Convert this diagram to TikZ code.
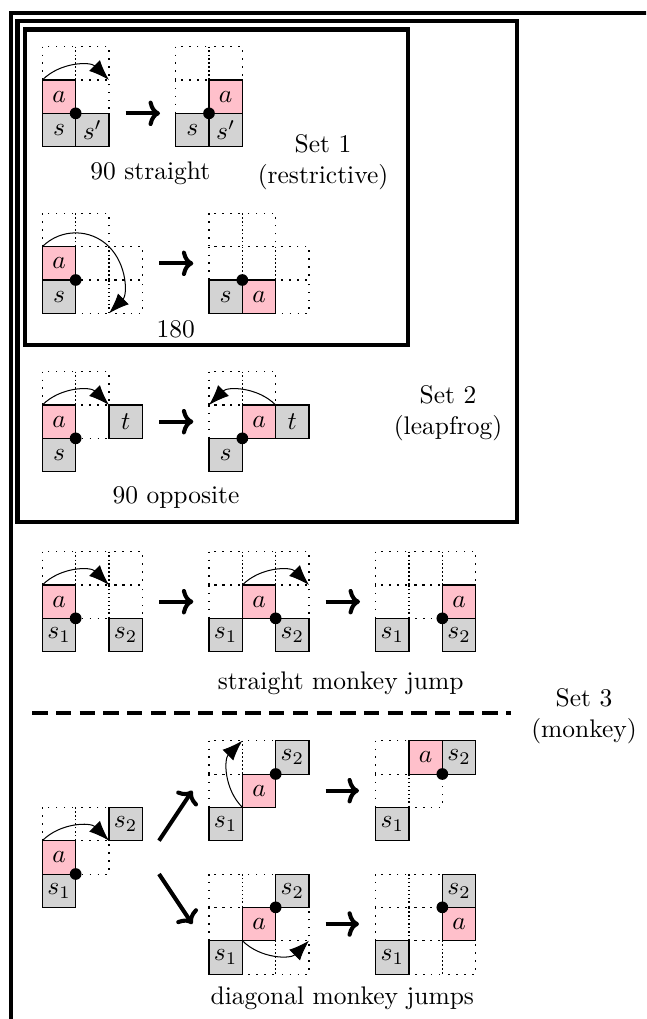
\documentclass[tikz,border=0pt]{standalone}
\usepackage{tikz}
\usetikzlibrary{arrows.meta}
\definecolor{agentpink}{RGB}{255,192,203}
\definecolor{blockgray}{RGB}{211,211,211}
\tikzset{x=0.46cm, y=0.46cm,
  emptycell/.style={dash pattern=on 0.6pt off 2.5pt},
  cell/.style={draw, minimum size=0.46cm, inner sep=0pt, outer sep=0pt},
  agent/.style={cell, fill=agentpink},
  block/.style={cell, fill=blockgray},
  pivot/.style={circle, fill, inner sep=0pt, minimum size=4.6pt},
  jump/.style={-{Latex[length=8pt, width=6pt]}},
  movearrow/.style={-{To[length=4.5pt, width=10pt]}, ultra thick},
  setbox/.style={ultra thick},
  setlabel/.style={align=center}}

\begin{document}
\begin{tikzpicture}
\useasboundingbox (-1.27,1.4) rectangle (18.11,-29.17);
\clip (-1.27,1.4) rectangle (18.11,-29.17);

\draw[setbox] (-0.95,1.02) rectangle (20,-31);
\draw[setbox] (-0.745,0.77) rectangle (14.24,-14.26);
\draw[setbox] (-0.51,0.515) rectangle (10.97,-8.95);

\node[setlabel] (set1) at (8.42,-3.47) {Set 1\\(restrictive)};
\node[setlabel] (set2) at (12.17,-10.99) {Set 2\\(leapfrog)};
\node[setlabel] (set3) at (16.25,-20.08) {Set 3\\(monkey)};

% 90 straight
\begin{scope}
  \foreach \c/\r in {0/0,1/0,1/1} \draw[emptycell] (\c,-\r) rectangle ++(1,-1);
  \node[agent] (a1) at (0.5,-1.5) {$a$};
  \node[block] (s1) at (0.5,-2.5) {$s$};
  \node[block] (q1) at (1.5,-2.5) {$s'$};
  \node[pivot] (o1) at (1,-2) {};
  \draw[jump] (a1.north west) arc[start angle=135, end angle=45, radius=0.6505cm];
  \coordinate (out1) at (2.5,-2);
\end{scope}
\begin{scope}[shift={(4,0)}]
  \foreach \c/\r in {0/0,1/0,0/1} \draw[emptycell] (\c,-\r) rectangle ++(1,-1);
  \node[agent] (a2) at (1.5,-1.5) {$a$};
  \node[block] (s2) at (0.5,-2.5) {$s$};
  \node[block] (q2) at (1.5,-2.5) {$s'$};
  \node[pivot] (o2) at (1,-2) {};
  \coordinate (in2) at (-0.47,-2);
\end{scope}
\draw[movearrow] (out1) -- (in2);
\node (l1) at (3.24,-3.79) {90 straight};

% 180
\begin{scope}[shift={(0,-5)}]
  \foreach \c/\r in {0/0,1/0,1/1,2/1,1/2,2/2} \draw[emptycell] (\c,-\r) rectangle ++(1,-1);
  \node[agent] (a3) at (0.5,-1.5) {$a$};
  \node[block] (s3) at (0.5,-2.5) {$s$};
  \node[pivot] (o3) at (1,-2) {};
  \draw[jump] (a3.north west) arc[start angle=135, end angle=-45, radius=0.6505cm];
  \coordinate (out3) at (3.5,-1.5);
\end{scope}
\begin{scope}[shift={(5,-5)}]
  \foreach \c/\r in {0/0,1/0,0/1,1/1,2/1,2/2} \draw[emptycell] (\c,-\r) rectangle ++(1,-1);
  \node[block] (s4) at (0.5,-2.5) {$s$};
  \node[agent] (a4) at (1.5,-2.5) {$a$};
  \node[pivot] (o4) at (1,-2) {};
  \coordinate (in4) at (-0.47,-1.5);
\end{scope}
\draw[movearrow] (out3) -- (in4);
\node (l2) at (4,-8.49) {180};

% 90 opposite
\begin{scope}[shift={(0,-9.75)}]
  \foreach \c/\r in {0/0,1/0,1/1} \draw[emptycell] (\c,-\r) rectangle ++(1,-1);
  \node[agent] (a5) at (0.5,-1.5) {$a$};
  \node[block] (t5) at (2.5,-1.5) {$t$};
  \node[block] (s5) at (0.5,-2.5) {$s$};
  \node[pivot] (o5) at (1,-2) {};
  \draw[jump] (a5.north west) arc[start angle=135, end angle=45, radius=0.6505cm];
  \coordinate (out5) at (3.5,-1.5);
\end{scope}
\begin{scope}[shift={(5,-9.75)}]
  \foreach \c/\r in {0/0,1/0,0/1} \draw[emptycell] (\c,-\r) rectangle ++(1,-1);
  \node[agent] (a6) at (1.5,-1.5) {$a$};
  \node[block] (t6) at (2.5,-1.5) {$t$};
  \node[block] (s6) at (0.5,-2.5) {$s$};
  \node[pivot] (o6) at (1,-2) {};
  \draw[jump] (a6.north east) arc[start angle=45, end angle=135, radius=0.6505cm];
  \coordinate (in6) at (-0.47,-1.5);
\end{scope}
\draw[movearrow] (out5) -- (in6);
\node (l3) at (4.01,-13.53) {90 opposite};

% straight monkey jump
\begin{scope}[shift={(0,-15.15)}]
  \foreach \c/\r in {0/0,1/0,2/0,1/1,2/1} \draw[emptycell] (\c,-\r) rectangle ++(1,-1);
  \node[agent] (a7) at (0.5,-1.5) {$a$};
  \node[block] (u7) at (0.5,-2.5) {$s_1$};
  \node[block] (v7) at (2.5,-2.5) {$s_2$};
  \node[pivot] (o7) at (1,-2) {};
  \draw[jump] (a7.north west) arc[start angle=135, end angle=45, radius=0.6505cm];
  \coordinate (out7) at (3.5,-1.5);
\end{scope}
\begin{scope}[shift={(5,-15.15)}]
  \foreach \c/\r in {0/0,1/0,2/0,0/1,2/1} \draw[emptycell] (\c,-\r) rectangle ++(1,-1);
  \node[agent] (a8) at (1.5,-1.5) {$a$};
  \node[block] (u8) at (0.5,-2.5) {$s_1$};
  \node[block] (v8) at (2.5,-2.5) {$s_2$};
  \node[pivot] (o8) at (2,-2) {};
  \draw[jump] (a8.north west) arc[start angle=135, end angle=45, radius=0.6505cm];
  \coordinate (in8) at (-0.47,-1.5);
  \coordinate (out8) at (3.5,-1.5);
\end{scope}
\begin{scope}[shift={(10,-15.15)}]
  \foreach \c/\r in {0/0,1/0,2/0,0/1,1/1} \draw[emptycell] (\c,-\r) rectangle ++(1,-1);
  \node[agent] (a9) at (2.5,-1.5) {$a$};
  \node[block] (u9) at (0.5,-2.5) {$s_1$};
  \node[block] (v9) at (2.5,-2.5) {$s_2$};
  \node[pivot] (o9) at (2,-2) {};
  \coordinate (in9) at (-0.47,-1.5);
\end{scope}
\draw[movearrow] (out7) -- (in8);
\draw[movearrow] (out8) -- (in9);
\node (l4) at (8.95,-19.1) {straight monkey jump};

\draw[ultra thick, dash pattern=on 6pt off 3.3pt] (-0.3,-20) coordinate (sepa) -- (14.05,-20) coordinate (sepb);

% diagonal monkey jumps
\begin{scope}[shift={(0,-22.82)}]
  \foreach \c/\r in {0/0,1/0,1/1} \draw[emptycell] (\c,-\r) rectangle ++(1,-1);
  \node[block] (v10) at (2.5,-0.5) {$s_2$};
  \node[agent] (a10) at (0.5,-1.5) {$a$};
  \node[block] (u10) at (0.5,-2.5) {$s_1$};
  \node[pivot] (o10) at (1,-2) {};
  \draw[jump] (a10.north west) arc[start angle=135, end angle=45, radius=0.6505cm];
  \coordinate (up10) at (3.5,-1);
  \coordinate (dn10) at (3.5,-2);
\end{scope}
\begin{scope}[shift={(5,-20.82)}]
  \foreach \c/\r in {0/0,1/0,0/1} \draw[emptycell] (\c,-\r) rectangle ++(1,-1);
  \node[block] (v11) at (2.5,-0.5) {$s_2$};
  \node[agent] (a11) at (1.5,-1.5) {$a$};
  \node[block] (u11) at (0.5,-2.5) {$s_1$};
  \node[pivot] (o11) at (2,-1) {};
  \draw[jump] (a11.south west) arc[start angle=225, end angle=135, radius=0.6505cm];
  \coordinate (in11) at (-0.5,-1.5);
  \coordinate (out11) at (3.5,-1.5);
\end{scope}
\begin{scope}[shift={(10,-20.82)}]
  \foreach \c/\r in {0/0,0/1,1/1} \draw[emptycell] (\c,-\r) rectangle ++(1,-1);
  \node[agent] (a12) at (1.5,-0.5) {$a$};
  \node[block] (v12) at (2.5,-0.5) {$s_2$};
  \node[block] (u12) at (0.5,-2.5) {$s_1$};
  \node[pivot] (o12) at (2,-1) {};
  \coordinate (in12) at (-0.5,-1.5);
\end{scope}
\begin{scope}[shift={(5,-24.82)}]
  \foreach \c/\r in {0/0,1/0,0/1,2/1,1/2,2/2} \draw[emptycell] (\c,-\r) rectangle ++(1,-1);
  \node[block] (v13) at (2.5,-0.5) {$s_2$};
  \node[agent] (a13) at (1.5,-1.5) {$a$};
  \node[block] (u13) at (0.5,-2.5) {$s_1$};
  \node[pivot] (o13) at (2,-1) {};
  \draw[jump] (a13.south west) arc[start angle=225, end angle=315, radius=0.6505cm];
  \coordinate (in13) at (-0.5,-1.5);
  \coordinate (out13) at (3.5,-1.5);
\end{scope}
\begin{scope}[shift={(10,-24.82)}]
  \foreach \c/\r in {0/0,1/0,0/1,1/1,1/2,2/2} \draw[emptycell] (\c,-\r) rectangle ++(1,-1);
  \node[block] (v14) at (2.5,-0.5) {$s_2$};
  \node[agent] (a14) at (2.5,-1.5) {$a$};
  \node[block] (u14) at (0.5,-2.5) {$s_1$};
  \node[pivot] (o14) at (2,-1) {};
  \coordinate (in14) at (-0.5,-1.5);
\end{scope}
\draw[movearrow] (up10) -- (in11);
\draw[movearrow] (dn10) -- (in13);
\draw[movearrow] (out11) -- (in12);
\draw[movearrow] (out13) -- (in14);
\node (l5) at (9,-28.55) {diagonal monkey jumps};
\end{tikzpicture}
\end{document}
